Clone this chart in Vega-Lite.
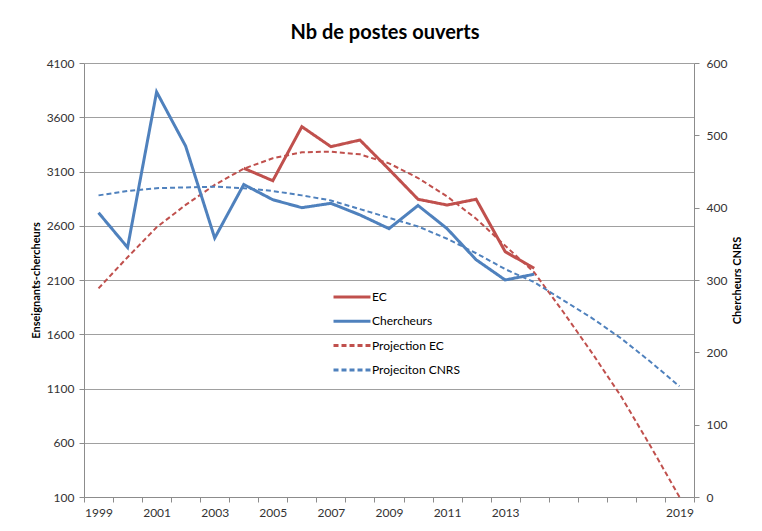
{
  "$schema": "https://vega.github.io/schema/vega-lite/v6.json",
  "width": 610,
  "height": 434,
  "autosize": {"type": "none"},
  "padding": {"left": 84, "top": 63, "right": 68, "bottom": 34},
  "background": "white",
  "title": {"text": "Nb de postes ouverts", "font": "Lato", "fontSize": 20, "fontWeight": "bold", "color": "#000000", "anchor": "middle", "offset": 14, "dx": -4},
  "config": {
    "view": {"stroke": null},
    "font": "Lato",
    "axis": {"labelFont": "Lato", "labelFontSize": 12, "labelColor": "#333333", "domainColor": "#8c8c8c", "tickColor": "#8c8c8c", "titleFont": "Lato", "titleFontSize": 11, "titleFontWeight": "bold", "titleColor": "#000000", "tickSize": 5}
  },
  "data": {"values": [
    {"year": 2004, "series": "EC", "value": 3130},
    {"year": 2005, "series": "EC", "value": 3015},
    {"year": 2006, "series": "EC", "value": 3513},
    {"year": 2007, "series": "EC", "value": 3329},
    {"year": 2008, "series": "EC", "value": 3390},
    {"year": 2009, "series": "EC", "value": 3120},
    {"year": 2010, "series": "EC", "value": 2844},
    {"year": 2011, "series": "EC", "value": 2791},
    {"year": 2012, "series": "EC", "value": 2844},
    {"year": 2013, "series": "EC", "value": 2361},
    {"year": 2014, "series": "EC", "value": 2208},
    {"year": 1999, "series": "Chercheurs", "value": 393},
    {"year": 2000, "series": "Chercheurs", "value": 345},
    {"year": 2001, "series": "Chercheurs", "value": 560},
    {"year": 2002, "series": "Chercheurs", "value": 485},
    {"year": 2003, "series": "Chercheurs", "value": 358},
    {"year": 2004, "series": "Chercheurs", "value": 432},
    {"year": 2005, "series": "Chercheurs", "value": 411},
    {"year": 2006, "series": "Chercheurs", "value": 400},
    {"year": 2007, "series": "Chercheurs", "value": 406},
    {"year": 2008, "series": "Chercheurs", "value": 390},
    {"year": 2009, "series": "Chercheurs", "value": 371},
    {"year": 2010, "series": "Chercheurs", "value": 403},
    {"year": 2011, "series": "Chercheurs", "value": 371},
    {"year": 2012, "series": "Chercheurs", "value": 328},
    {"year": 2013, "series": "Chercheurs", "value": 300},
    {"year": 2014, "series": "Chercheurs", "value": 308},
    {"year": 1999, "series": "Projection EC", "value": 2023},
    {"year": 2000, "series": "Projection EC", "value": 2310},
    {"year": 2001, "series": "Projection EC", "value": 2586},
    {"year": 2002, "series": "Projection EC", "value": 2792},
    {"year": 2003, "series": "Projection EC", "value": 2977},
    {"year": 2004, "series": "Projection EC", "value": 3126},
    {"year": 2005, "series": "Projection EC", "value": 3222},
    {"year": 2006, "series": "Projection EC", "value": 3277},
    {"year": 2007, "series": "Projection EC", "value": 3283},
    {"year": 2008, "series": "Projection EC", "value": 3258},
    {"year": 2009, "series": "Projection EC", "value": 3175},
    {"year": 2010, "series": "Projection EC", "value": 3040},
    {"year": 2011, "series": "Projection EC", "value": 2870},
    {"year": 2012, "series": "Projection EC", "value": 2665},
    {"year": 2013, "series": "Projection EC", "value": 2416},
    {"year": 2014, "series": "Projection EC", "value": 2170},
    {"year": 2015, "series": "Projection EC", "value": 1805},
    {"year": 2016, "series": "Projection EC", "value": 1424},
    {"year": 2017, "series": "Projection EC", "value": 1023},
    {"year": 2018, "series": "Projection EC", "value": 570},
    {"year": 2019, "series": "Projection EC", "value": 100},
    {"year": 1999, "series": "Projeciton CNRS", "value": 417},
    {"year": 2000, "series": "Projeciton CNRS", "value": 423},
    {"year": 2001, "series": "Projeciton CNRS", "value": 427},
    {"year": 2002, "series": "Projeciton CNRS", "value": 428},
    {"year": 2003, "series": "Projeciton CNRS", "value": 429},
    {"year": 2004, "series": "Projeciton CNRS", "value": 427},
    {"year": 2005, "series": "Projeciton CNRS", "value": 423},
    {"year": 2006, "series": "Projeciton CNRS", "value": 417},
    {"year": 2007, "series": "Projeciton CNRS", "value": 410},
    {"year": 2008, "series": "Projeciton CNRS", "value": 398},
    {"year": 2009, "series": "Projeciton CNRS", "value": 386},
    {"year": 2010, "series": "Projeciton CNRS", "value": 374},
    {"year": 2011, "series": "Projeciton CNRS", "value": 357},
    {"year": 2012, "series": "Projeciton CNRS", "value": 337},
    {"year": 2013, "series": "Projeciton CNRS", "value": 315},
    {"year": 2014, "series": "Projeciton CNRS", "value": 297},
    {"year": 2015, "series": "Projeciton CNRS", "value": 272},
    {"year": 2016, "series": "Projeciton CNRS", "value": 247},
    {"year": 2017, "series": "Projeciton CNRS", "value": 219},
    {"year": 2018, "series": "Projeciton CNRS", "value": 187},
    {"year": 2019, "series": "Projeciton CNRS", "value": 153}
  ]},
  "encoding": {
    "x": {
      "field": "year", "type": "quantitative",
      "scale": {"domain": [1998.5, 2019.5], "nice": false, "zero": false},
      "axis": {
        "title": null, "grid": false,
        "values": [1998.5, 1999.5, 2000.5, 2001.5, 2002.5, 2003.5, 2004.5, 2005.5, 2006.5, 2007.5, 2008.5, 2009.5, 2010.5, 2011.5, 2012.5, 2013.5, 2014.5, 2015.5, 2016.5, 2017.5, 2018.5, 2019.5],
        "labelExpr": "(((datum.value + 0.5) <= 2013 && (datum.value + 0.5) % 2 == 1) || (datum.value + 0.5) == 2019) ? toString(datum.value + 0.5) : ''",
        "labelOffset": 14.5, "labelOverlap": false, "labelBound": false, "labelFlush": false, "labelPadding": 5
      }
    },
    "color": {
      "field": "series", "type": "nominal",
      "scale": {"domain": ["EC", "Chercheurs", "Projection EC", "Projeciton CNRS"], "range": ["#C0504D", "#4F81BD", "#C0504D", "#4F81BD"]},
      "legend": {"title": null, "orient": "none", "legendX": 257, "legendY": 223, "symbolType": "M-2,0H2", "symbolSize": 342, "symbolStrokeWidth": 3, "labelFont": "Lato", "labelFontSize": 12, "labelColor": "#000000", "rowPadding": 7.3, "labelOffset": 9}
    },
    "strokeDash": {
      "field": "series", "type": "nominal",
      "scale": {"domain": ["EC", "Chercheurs", "Projection EC", "Projeciton CNRS"], "range": [[1, 0], [1, 0], [5, 3], [5, 3]]}
    }
  },
  "layer": [
    {
      "transform": [{"filter": "datum.series == 'EC' || datum.series == 'Projection EC'"}],
      "encoding": {
        "y": {
          "field": "value", "type": "quantitative",
          "scale": {"domain": [100, 4100], "nice": false, "zero": false},
          "axis": {"title": "Enseignants-chercheurs", "format": "d", "values": [100, 600, 1100, 1600, 2100, 2600, 3100, 3600, 4100], "grid": true, "gridColor": "#a0a0a0", "gridWidth": 1, "labelPadding": 5, "titlePadding": 5}
        }
      },
      "layer": [
        {"transform": [{"filter": "datum.series == 'Projection EC'"}], "mark": {"type": "line", "strokeWidth": 2}},
        {"transform": [{"filter": "datum.series == 'EC'"}], "mark": {"type": "line", "strokeWidth": 3}}
      ]
    },
    {
      "transform": [{"filter": "datum.series == 'Chercheurs' || datum.series == 'Projeciton CNRS'"}],
      "encoding": {
        "y": {
          "field": "value", "type": "quantitative",
          "scale": {"domain": [0, 600], "nice": false, "zero": false},
          "axis": {"title": "Chercheurs CNRS", "orient": "right", "format": "d", "values": [0, 100, 200, 300, 400, 500, 600], "grid": false, "labelPadding": 7, "titlePadding": 16, "titleAngle": 270}
        }
      },
      "layer": [
        {"transform": [{"filter": "datum.series == 'Projeciton CNRS'"}], "mark": {"type": "line", "strokeWidth": 2}},
        {"transform": [{"filter": "datum.series == 'Chercheurs'"}], "mark": {"type": "line", "strokeWidth": 3}}
      ]
    }
  ],
  "resolve": {"scale": {"y": "independent"}}
}
